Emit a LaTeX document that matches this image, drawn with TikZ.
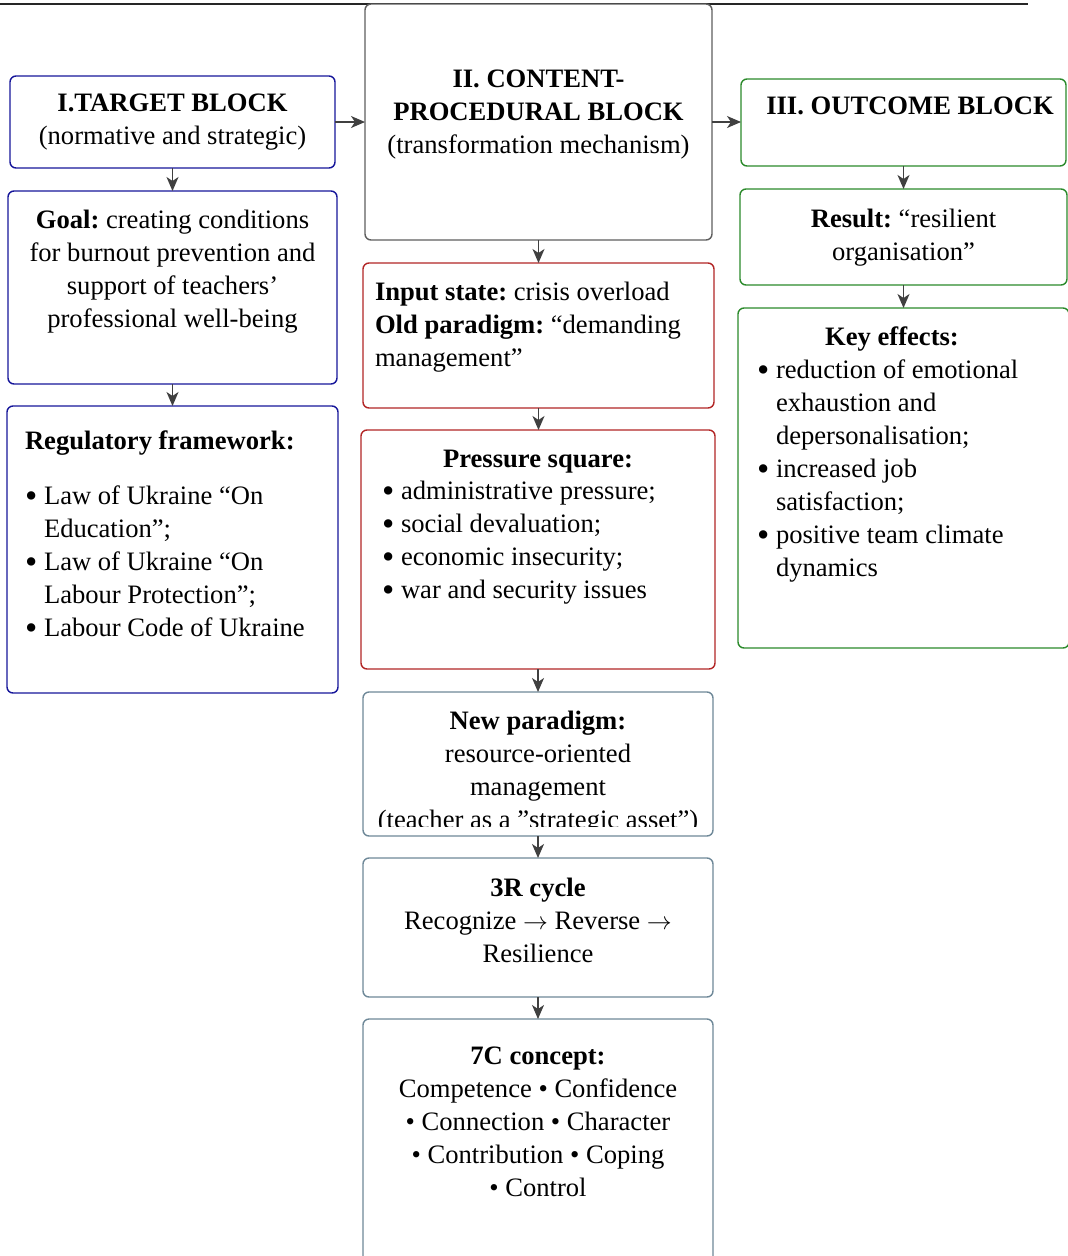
\documentclass[tikz,border=0pt]{standalone}
\usepackage{fontspec}
\setmainfont{Liberation Serif}
\usetikzlibrary{arrows.meta}
\definecolor{cblue}{HTML}{16169A}
\definecolor{cred}{HTML}{B22525}
\definecolor{cgreen}{HTML}{2B8A2B}
\definecolor{cgray}{HTML}{5E5E5E}
\definecolor{cslate}{HTML}{6E8898}
\definecolor{arrgray}{HTML}{404040}
\newcommand\mybul{\makebox[19pt][l]{\raisebox{-3.2pt}{\fontsize{35}{33}\selectfont •}}}
\newcommand\myind{\hspace*{19pt}}
\newcommand\myarr{$\rightarrow$}
\frenchspacing
\begin{document}
\begin{tikzpicture}[x=1pt,y=-1pt,
  every node/.style={font=\fontsize{26.6}{33}\selectfont\frenchspacing, inner sep=0pt, outer sep=0pt},
  box/.style={draw=#1, rounded corners=6pt, line width=1.4pt, anchor=north west, fill=white},
  arr/.style={draw=arrgray, line width=1.4pt, -{Stealth[length=14pt,width=12pt,inset=4pt]}}]
\useasboundingbox (0,0) rectangle (1068,1256);
\clip (0,0) rectangle (1068,1256);
\draw[line width=2pt, black!85] (0,4) -- (1028,4);

% left column
\node[box=cblue, minimum width=325pt, minimum height=92pt] (target) at (10,76) {};
\node[box=cblue, minimum width=329pt, minimum height=193pt] (goal) at (8,191) {};
\node[box=cblue, minimum width=331pt, minimum height=287pt] (reg) at (7,406) {};
% centre column
\node[box=cgray, minimum width=347pt, minimum height=236pt] (content) at (365,4) {};
\node[box=cred, minimum width=351pt, minimum height=145pt] (input) at (363,263) {};
\node[box=cred, minimum width=354pt, minimum height=239pt] (pressure) at (361,430) {};
\node[box=cslate, minimum width=350pt, minimum height=144pt] (newp) at (363,692) {};
\node[box=cslate, minimum width=350pt, minimum height=139pt] (three) at (363,858) {};
\node[box=cslate, minimum width=350pt, minimum height=245pt] (seven) at (363,1019) {};
% right column
\node[box=cgreen, minimum width=325pt, minimum height=87pt] (outcome) at (741,79) {};
\node[box=cgreen, minimum width=327pt, minimum height=96pt] (result) at (740,189) {};
\node[box=cgreen, minimum width=331pt, minimum height=340pt] (key) at (738,308) {};

% texts
\node[anchor=north, align=center] (targett) at (172.5,87.9)
  {\strut\textbf{I.TARGET BLOCK}\\(normative and strategic)};
\node[anchor=north, align=center] (goalt) at (172.5,204.9)
  {\strut\textbf{Goal:} creating conditions\\for burnout prevention and\\support of teachers’\\professional well-being};
\node[anchor=base west] (regtitle) at (25,449) {\textbf{Regulatory framework:}};
\node[anchor=north west, align=left] (regt) at (25,480.9)
  {\strut\mybul Law of Ukraine “On\\\myind Education”;\\\mybul Law of Ukraine “On\\\myind Labour Protection”;\\\mybul Labour Code of Ukraine};

\node[anchor=north, align=center] (contentt) at (538.5,63.9)
  {\strut\textbf{II. CONTENT-}\\\textbf{PROCEDURAL BLOCK}\\(transformation mechanism)};
\node[anchor=north west, align=left] (inputt) at (375,276.9)
  {\strut\textbf{Input state:} crisis overload\\\textbf{Old paradigm:} “demanding\\management”};
\node[anchor=base] (prestitle) at (538,467) {\textbf{Pressure square:}};
\node[anchor=north west, align=left] (prest) at (382,475.9)
  {\strut\mybul administrative pressure;\\\mybul social devaluation;\\\mybul economic insecurity;\\\mybul war and security issues};
\begin{scope}
\clip (363,692) rectangle (713,826);
\node[anchor=north, align=center] (newpt) at (538,705.9)
  {\strut\textbf{New paradigm:}\\resource-oriented\\management\\(teacher as a ”strategic asset”)};
\end{scope}
\node[anchor=north, align=center] (threet) at (538,872.9)
  {\strut\textbf{3R cycle}\\Recognize \myarr{} Reverse \myarr\\Resilience};
\node[anchor=north, align=center] (sevent) at (538,1040.9)
  {\strut\textbf{7C concept:}\\Competence • Confidence\\• Connection • Character\\• Contribution • Coping\\• Control};

\node[anchor=base] (outcomet) at (910,114) {\textbf{III. OUTCOME BLOCK}};
\node[anchor=north, align=center] (resultt) at (903.5,203.9)
  {\strut\textbf{Result:} “resilient\\organisation”};
\node[anchor=base] (keytitle) at (892,345) {\textbf{Key effects:}};
\node[anchor=north west, align=left] (keyt) at (757,354.9)
  {\strut\mybul reduction of emotional\\\myind exhaustion and\\\myind depersonalisation;\\\mybul increased job\\\myind satisfaction;\\\mybul positive team climate\\\myind dynamics};

% connectors
\draw[arr] (target.east) -- (target.east -| content.west);
\draw[arr] (target.east -| content.east) -- (target.east -| outcome.west);
\draw[arr] (target.south) -- (goal.north);
\draw[arr] (goal.south) -- (reg.north);
\draw[arr] (content.south) -- (content.south |- input.north);
\draw[arr] (input.south) -- (input.south |- pressure.north);
\draw[arr] (pressure.south) -- (pressure.south |- newp.north);
\draw[arr] (newp.south) -- (three.north);
\draw[arr] (three.south) -- (seven.north);
\draw[arr] (outcome.south) -- (result.north);
\draw[arr] (result.south) -- (result.south |- key.north);
\end{tikzpicture}
\end{document}
